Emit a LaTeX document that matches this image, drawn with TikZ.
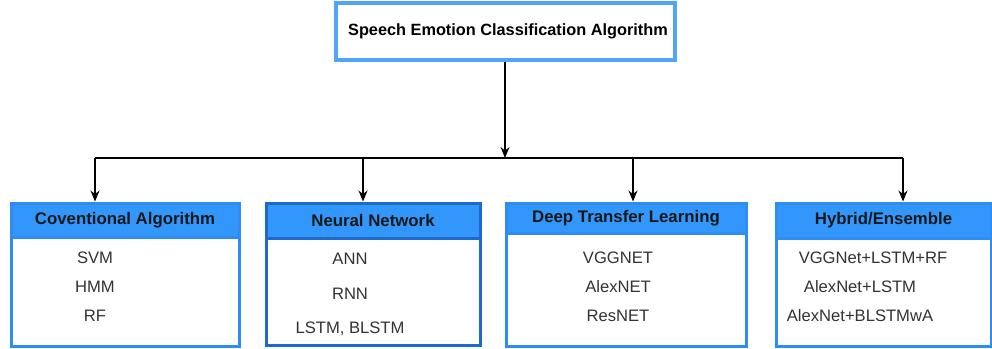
\documentclass[tikz,border=0pt]{standalone}
\usepackage{fontspec}
\setmainfont{Liberation Sans}
\usetikzlibrary{arrows.meta}
\definecolor{hdr}{RGB}{51,150,250}
\definecolor{brd}{RGB}{45,140,245}
\definecolor{brdtop}{RGB}{80,165,250}
\definecolor{brddark}{RGB}{30,105,205}
\tikzset{
  titlebox/.style={draw=brdtop, line width=4pt, fill=white, inner sep=0, minimum width=339pt, minimum height=57pt, font=\fontsize{16.3}{19}\selectfont\bfseries},
  hdrbox/.style={draw=brd, line width=3pt, fill=hdr, inner sep=0, anchor=north west, font=\fontsize{16.8}{19}\selectfont\bfseries, text=black!90},
  bodybox/.style={draw=brd, line width=3pt, fill=white, inner sep=0, anchor=north west},
  item/.style={font=\fontsize{16.6}{19}\selectfont, text=black!80, inner sep=0},
  arr/.style={-{Stealth[length=11pt,width=9pt]}, line width=1.3pt},
  conn/.style={line width=1.3pt}
}
\begin{document}
\begin{tikzpicture}[x=1pt,y=-1pt]
\useasboundingbox (0,0) rectangle (992,348);
% title
\node[titlebox] (top) at (505.5,31.5) {\hspace{5pt}Speech Emotion Classification Algorithm};
% box 1
\node[bodybox, minimum width=228pt, minimum height=143pt] (b1) at (9.5,201.5) {};
\node[hdrbox, minimum width=228pt, minimum height=34pt] (h1) at (9.5,201.5) {Coventional Algorithm};
\node[item] (i11) at (95,258) {SVM};
\node[item] (i12) at (95,287) {HMM};
\node[item] (i13) at (95,316) {RF};
% box 2
\node[bodybox, draw=brddark, minimum width=214pt, minimum height=142pt] (b2) at (264.5,201.5) {};
\node[hdrbox, draw=brddark, minimum width=214pt, minimum height=35pt] (h2) at (264.5,201.5) {Neural Network};
\node[item] (i21) at (350,259) {ANN};
\node[item] (i22) at (350,294) {RNN};
\node[item] (i23) at (350,329) {LSTM, BLSTM};
% box 3
\node[bodybox, minimum width=240pt, minimum height=143pt] (b3) at (504.5,201.5) {};
\node[hdrbox, minimum width=240pt, minimum height=30pt] (h3) at (504.5,201.5) {Deep Transfer Learning};
\node[item] (i31) at (618,258) {VGGNET};
\node[item] (i32) at (618,287) {AlexNET};
\node[item] (i33) at (618,316) {ResNET};
% box 4
\node[bodybox, minimum width=215pt, minimum height=143pt] (b4) at (774.5,201.5) {};
\node[hdrbox, minimum width=215pt, minimum height=35pt] (h4) at (774.5,201.5) {Hybrid/Ensemble};
\node[item] (i41) at (873,258) {VGGNet+LSTM+RF};
\node[item] (i42) at (860,287) {AlexNet+LSTM};
\node[item] (i43) at (860,316) {AlexNet+BLSTMwA};
% connectors
\coordinate (hub) at (505,158);
\coordinate (c1) at (95,158);
\coordinate (c2) at (363,158);
\coordinate (c3) at (633,158);
\coordinate (c4) at (903,158);
\draw[arr] (top.south -| hub) -- (hub);
\draw[conn] (c1) -- (c4);
\draw[arr] (c1) -- (c1 |- h1.north);
\draw[arr] (c2) -- (c2 |- h2.north);
\draw[arr] (c3) -- (c3 |- h3.north);
\draw[arr] (c4) -- (c4 |- h4.north);
\end{tikzpicture}
\end{document}
